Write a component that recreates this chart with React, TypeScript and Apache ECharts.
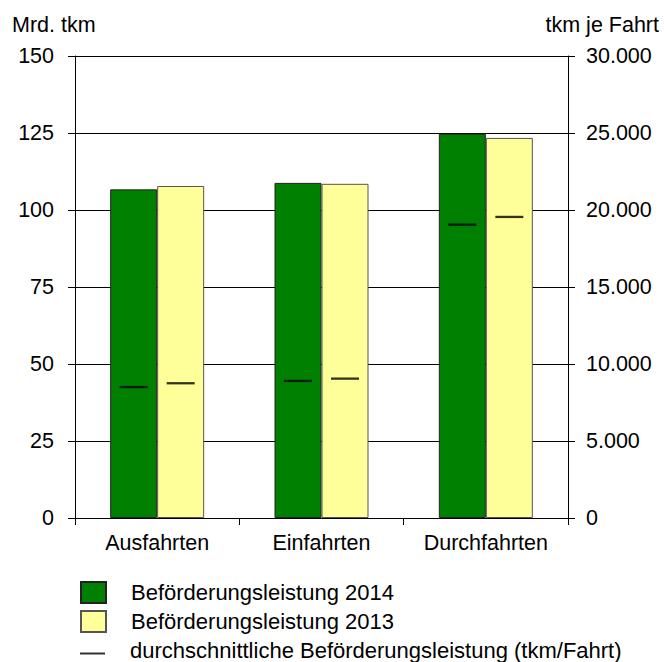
import React, { useEffect, useRef } from "react";
import * as echarts from "echarts";

const categories = ["Ausfahrten", "Einfahrten", "Durchfahrten"];
const leistung2014 = [106.7, 108.8, 124.8];
const leistung2013 = [107.8, 108.5, 123.4];
const avg2014 = [8500, 8900, 19050];
const avg2013 = [8750, 9050, 19550];
const seriesNames = [
  "Beförderungsleistung 2014",
  "Beförderungsleistung 2013",
  "durchschnittliche Beförderungsleistung (tkm/Fahrt)",
];
const leftAxisTitle = "Mrd. tkm";
const rightAxisTitle = "tkm je Fahrt";

const FONT = "'Liberation Sans', Arial, sans-serif";
const FS = 21.5;
const LFS = 22;

function fmtDe(v: number): string {
  const s = Math.round(v).toString();
  return s.replace(/\B(?=(\d{3})+(?!\d))/g, ".");
}

const legendIcons = ["rect", "rect", "path://M0,0H0.01V0.01H0Z M0,8H28V10.3H0Z"];
const legendTops = [581, 610, 639];

export default function App() {
  const ref = useRef<HTMLDivElement>(null);
  useEffect(() => {
    document.body.style.margin = "0";
    if (!ref.current) return;
    const chart = echarts.init(ref.current, undefined, { renderer: "svg" });
    chart.setOption({
      animation: false,
      backgroundColor: "#ffffff",
      textStyle: { fontFamily: FONT, color: "#000" },
      grid: { left: 75, right: 96, top: 56, bottom: 144, containLabel: false },
      legend: seriesNames.map((n, i) => ({
        orient: "vertical",
        left: 80,
        top: legendTops[i],
        padding: 0,
        itemWidth: 25,
        itemHeight: 21,
        itemGap: 0,
        selectedMode: false,
        textStyle: { fontFamily: FONT, fontSize: LFS, color: "#000", padding: [0, 0, 0, 20] },
        data: [{ name: n, icon: legendIcons[i] }],
      })),
      graphic: [
        {
          type: "text",
          left: 12,
          top: 14,
          style: { text: leftAxisTitle, fontFamily: FONT, fontSize: FS, fill: "#000" },
        },
        {
          type: "text",
          right: 5,
          top: 14,
          style: { text: rightAxisTitle, fontFamily: FONT, fontSize: FS, fill: "#000" },
        },
      ],
      xAxis: {
        type: "category",
        data: categories,
        axisLine: { lineStyle: { color: "#000", width: 1 } },
        axisTick: { show: true, length: 7, interval: 0, lineStyle: { color: "#000" } },
        axisLabel: { fontFamily: FONT, fontSize: FS, color: "#000", margin: 14 },
        splitLine: { show: false },
      },
      yAxis: [
        {
          type: "value",
          min: 0,
          max: 150,
          interval: 25,
          position: "left",
          axisLine: { show: true, lineStyle: { color: "#000", width: 1 } },
          axisTick: { show: true, length: 7, lineStyle: { color: "#000" } },
          axisLabel: { fontFamily: FONT, fontSize: FS, color: "#000", margin: 21 },
          splitLine: { show: true, lineStyle: { color: "#000", width: 1 } },
        },
        {
          type: "value",
          min: 0,
          max: 30000,
          interval: 5000,
          position: "right",
          axisLine: { show: true, lineStyle: { color: "#000", width: 1 } },
          axisTick: { show: true, length: 7, lineStyle: { color: "#000" } },
          axisLabel: {
            fontFamily: FONT,
            fontSize: FS,
            color: "#000",
            margin: 18,
            formatter: (v: number) => fmtDe(v),
          },
          splitLine: { show: false },
        },
      ],
      series: [
        {
          name: seriesNames[0],
          type: "bar",
          data: leistung2014,
          barWidth: 47,
          barGap: "0%",
          itemStyle: { color: "#008000", borderColor: "#222", borderWidth: 1 },
        },
        {
          name: seriesNames[1],
          type: "bar",
          data: leistung2013,
          barWidth: 47,
          barGap: "0%",
          itemStyle: { color: "#FFFF99", borderColor: "#555", borderWidth: 1 },
        },
        {
          name: seriesNames[2],
          type: "scatter",
          yAxisIndex: 1,
          data: avg2014,
          symbol: "rect",
          symbolSize: [28, 2.3],
          symbolOffset: [-23.5, 0],
          itemStyle: { color: "#000" },
          z: 5,
        },
        {
          name: seriesNames[2],
          type: "scatter",
          yAxisIndex: 1,
          data: avg2013,
          symbol: "rect",
          symbolSize: [28, 2.3],
          symbolOffset: [23.5, 0],
          itemStyle: { color: "#000" },
          z: 5,
        },
      ],
    });
    return () => chart.dispose();
  }, []);
  return <div ref={ref} style={{ width: 664, height: 662 }} />;
}
